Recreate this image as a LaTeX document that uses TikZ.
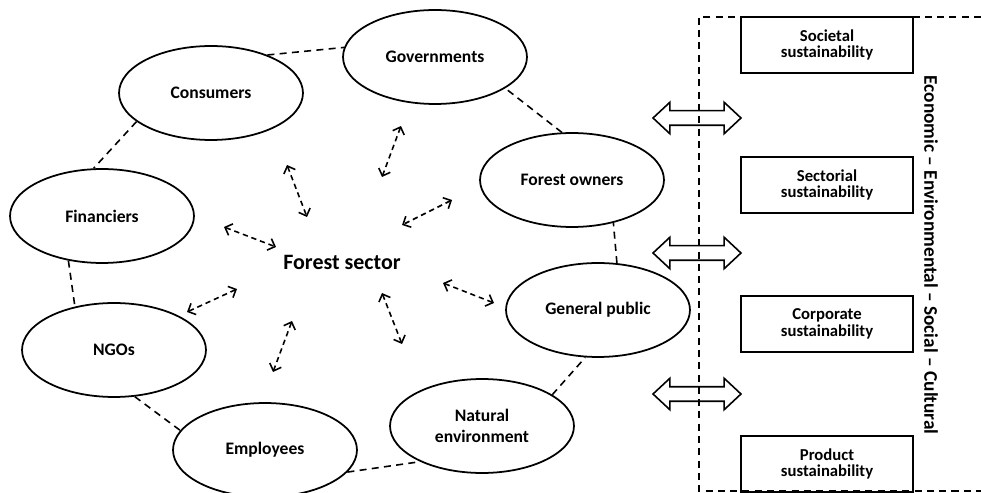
\documentclass[tikz,border=0pt]{standalone}
\usepackage{fontspec}
\setmainfont{Carlito}
\usetikzlibrary{shapes.geometric, shapes.arrows, arrows.meta}

\begin{document}
\begin{tikzpicture}[x=0.02cm, y=-0.02cm,
    actor/.style={draw, ellipse, line width=1pt, minimum width=3.68cm, minimum height=1.88cm, inner sep=0pt, align=center, font=\bfseries\fontsize{10}{12}\selectfont},
    level/.style={draw, rectangle, line width=0.9pt, minimum width=3.44cm, minimum height=1.12cm, align=center, font=\bfseries\fontsize{9.5}{9.5}\selectfont},
    ring/.style={line width=0.9pt, dash pattern=on 4pt off 3pt},
    exch/.style={line width=0.9pt, dash pattern=on 3pt off 2.2pt, {Straight Barb[length=3.5pt,width=7pt]}-{Straight Barb[length=3.5pt,width=7pt]}},
    flow/.style={draw, double arrow, line width=0.9pt, minimum height=1.76cm, minimum width=0.6cm, inner xsep=0pt, inner ysep=0.13cm, double arrow head extend=0.17cm, double arrow tip angle=86}
  ]
  \useasboundingbox (0,0) rectangle (981,493);

  \node[font=\bfseries\fontsize{12.5}{14}\selectfont] (fs) at (342,262) {Forest sector};

  \node[actor] (gov) at (435,57) {Governments};
  \node[actor] (cons) at (211,93) {Consumers};
  \node[actor] (fo) at (572,180) {Forest owners};
  \node[actor] (fin) at (102,216) {Financiers};
  \node[actor] (gp) at (598,310) {General public};
  \node[actor] (ngo) at (114,350) {NGOs};
  \node[actor] (nat) at (482,426) {Natural\\environment};
  \node[actor] (emp) at (265,450) {Employees};

  % dashed ring round the sector
  \foreach \a/\b in {cons.34/gov.174, cons.201/fin.100, fin.233/ngo.132, ngo.294/emp.167,
                     emp.345/nat.210, nat.24/gp.255, gp.68/fo.314, fo.102/gov.336}
    \draw[ring] (\a) -- (\b);

  % exchanges with the sector
  \foreach \xa/\ya/\xb/\yb [count=\i] in {287/165/307/217, 401/126/382/177, 224/227/276/247, 452/200/402/225,
                                          237/289/187/312, 292/321/273/372, 382/293/402/344, 443/283/494/303} {
    \coordinate (p\i) at (\xa,\ya);
    \coordinate (q\i) at (\xb,\yb);
    \draw[exch] (p\i) -- (q\i);
  }

  \draw[ring] (981,17) -- (699,17) -- (699,491) -- (981,491);

  \node[level] (soc) at (827,45) {Societal\\sustainability};
  \node[level] (sec) at (827,185) {Sectorial\\sustainability};
  \node[level] (corp) at (827,324) {Corporate\\sustainability};
  \node[level] (prod) at (827,464) {Product\\sustainability};

  \foreach \y [count=\i] in {118,253,394}
    \node[flow] (link\i) at (697,\y) {};

  \node[rotate=-90, font=\bfseries\fontsize{11}{13}\selectfont] (dims) at (931,255) {Economic – Environmental – Social – Cultural};
\end{tikzpicture}
\end{document}
